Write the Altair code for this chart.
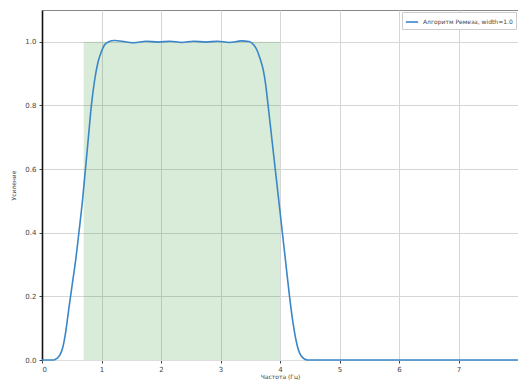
import altair as alt
import pandas as pd

freq = [0, 0.1, 0.2, 0.25, 0.30, 0.35, 0.40, 0.45, 0.51, 0.57, 0.62, 0.68, 0.73, 0.78, 0.83,
        0.885, 0.94, 1.00, 1.05, 1.12, 1.22, 1.40, 1.55, 1.75, 1.95, 2.15, 2.35, 2.55,
        2.75, 2.95, 3.15, 3.35, 3.48, 3.56, 3.61, 3.66, 3.72, 3.76, 3.80, 3.86, 3.92,
        3.98, 4.04, 4.10, 4.16, 4.22, 4.29, 4.36, 4.46, 4.60, 5.0, 6.0, 7.0, 8.0]
gain = [0, 0, 0, 0.005, 0.015, 0.04, 0.09, 0.16, 0.24, 0.32, 0.40, 0.50, 0.60, 0.70, 0.80,
        0.88, 0.935, 0.97, 0.99, 1.0, 1.004, 1.0, 0.997, 1.002, 0.999, 1.002, 0.998, 1.002,
        0.999, 1.002, 0.998, 1.003, 1.001, 0.99, 0.975, 0.95, 0.91, 0.865, 0.80, 0.70, 0.60,
        0.50, 0.40, 0.30, 0.20, 0.115, 0.045, 0.012, 0, 0, 0, 0, 0, 0]
series_name = "Алгоритм Ремеза, width=1.0"
band_start = [0.7]
band_end = [4.0]
band_top = [1.0]
x_ticks = [0, 1, 2, 3, 4, 5, 6, 7]
y_ticks = [0.0, 0.2, 0.4, 0.6, 0.8, 1.0]

df = pd.DataFrame({"f": freq, "g": gain, "s": [series_name] * len(freq)})
band = pd.DataFrame({"x": band_start, "x2": band_end, "y0": [0.0], "y1": band_top})

xscale = alt.Scale(domain=[0, 8], nice=False, zero=False)
yscale = alt.Scale(domain=[0, 1.1], nice=False)

rect = alt.Chart(band).mark_rect(color="green", opacity=0.15).encode(
    x=alt.X("x:Q", scale=xscale),
    x2="x2:Q",
    y=alt.Y("y0:Q", scale=yscale),
    y2="y1:Q",
)

line = alt.Chart(df).mark_line(strokeWidth=1.6, interpolate="monotone").encode(
    x=alt.X("f:Q", scale=xscale,
            axis=alt.Axis(values=x_ticks, format="d", title="Частота (Гц)",
                          labelFontSize=7, titleFontSize=6, labelColor="#444",
                          titleColor="#444", titleFontWeight="normal", tickSize=3,
                          tickColor="#444", domainColor="#ddd", gridColor="#d6d6d6",
                          labelPadding=2, titlePadding=1)),
    y=alt.Y("g:Q", scale=yscale,
            axis=alt.Axis(values=y_ticks, format=".1f", title="Усиление",
                          labelFontSize=7, titleFontSize=6, labelColor="#444",
                          titleColor="#444", titleFontWeight="normal", tickSize=3,
                          tickColor="#444", domainColor="#111", domainWidth=1.6,
                          gridColor="#d6d6d6", labelPadding=3, titlePadding=8)),
    color=alt.Color("s:N", scale=alt.Scale(range=["#3a86c8"]),
                    legend=alt.Legend(title=None, orient="top-right", symbolType="stroke",
                                      symbolStrokeWidth=1.6, symbolSize=150,
                                      labelFontSize=6, labelColor="#444",
                                      fillColor="white", strokeColor="#ccc",
                                      padding=3, offset=2)),
)

chart = alt.layer(rect, line).properties(
    width=476, height=350,
    autosize=alt.AutoSizeParams(type="none"),
    padding={"left": 34, "top": 2, "right": 0, "bottom": 21},
).configure_view(stroke="#888", strokeWidth=1).configure_axis(
    labelFont="DejaVu Sans", titleFont="DejaVu Sans"
).configure_legend(labelFont="DejaVu Sans")

chart.save("out.html", embed_options={"renderer": "svg", "actions": False})
